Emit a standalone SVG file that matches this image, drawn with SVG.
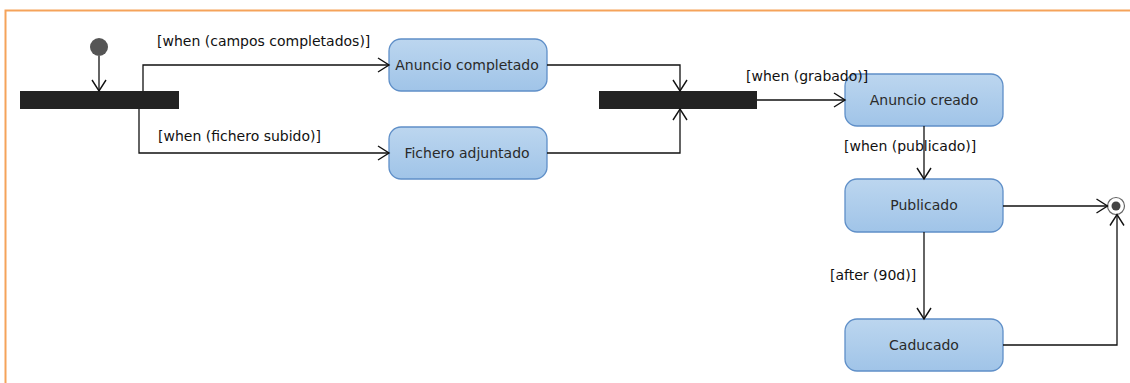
<svg xmlns="http://www.w3.org/2000/svg" width="1130" height="383" viewBox="0 0 1130 383">
<defs>
<linearGradient id="g" x1="0" y1="0" x2="0" y2="1">
<stop offset="0" stop-color="#bcd6ef"/>
<stop offset="1" stop-color="#a0c4e8"/>
</linearGradient>
<marker id="a" markerWidth="14" markerHeight="16" refX="12" refY="8" orient="auto" markerUnits="userSpaceOnUse">
<path d="M1,1 L12,8 L1,15" fill="none" stroke="#111" stroke-width="1.4"/>
</marker>
<style>
.st rect{fill:url(#g);stroke:#5f8fc8;stroke-width:1.3}
.st text{font-family:"DejaVu Sans",sans-serif;font-size:14px;fill:#2a2a2a;text-anchor:middle}
.bar{fill:#222}
.c path{fill:none;stroke:#111;stroke-width:1.3}
.lbl{font-family:"DejaVu Sans",sans-serif;font-size:14px;fill:#111}
</style>
</defs>
<rect width="1130" height="383" fill="#fff"/>
<path d="M5.5,383 V10.5 H1130" fill="none" stroke="#f5a35a" stroke-width="2"/>
<g id="initial"><circle cx="99" cy="47" r="9" fill="#555"/></g>
<g id="fork1"><rect class="bar" x="20" y="91" width="159" height="18"/></g>
<g id="join1"><rect class="bar" x="599" y="91" width="158" height="18"/></g>
<g id="anuncio-completado" class="st"><rect x="389" y="39" width="158" height="52" rx="12"/><text x="467" y="70">Anuncio completado</text></g>
<g id="fichero-adjuntado" class="st"><rect x="389" y="127" width="158" height="52" rx="12"/><text x="467" y="158">Fichero adjuntado</text></g>
<g id="anuncio-creado" class="st"><rect x="845" y="74" width="158" height="52" rx="12"/><text x="924" y="105">Anuncio creado</text></g>
<g id="publicado" class="st"><rect x="845" y="179" width="158" height="53" rx="12"/><text x="924" y="210">Publicado</text></g>
<g id="caducado" class="st"><rect x="845" y="319" width="158" height="52" rx="12"/><text x="924" y="350">Caducado</text></g>
<g id="final"><circle cx="1116" cy="206" r="8.5" fill="#fff" stroke="#666" stroke-width="1.2"/><circle cx="1116" cy="206" r="4.5" fill="#444"/></g>
<g class="c" id="connectors">
<path d="M99,56 V91" marker-end="url(#a)"/>
<path d="M143,91 V65 H389" marker-end="url(#a)"/>
<path d="M139,109 V153 H389" marker-end="url(#a)"/>
<path d="M547,65 H680 V91" marker-end="url(#a)"/>
<path d="M547,153 H680 V109" marker-end="url(#a)"/>
<path d="M757,100 H845" marker-end="url(#a)"/>
<path d="M924,126 V179" marker-end="url(#a)"/>
<path d="M1003,206 H1107.5" marker-end="url(#a)"/>
<path d="M924,232 V319" marker-end="url(#a)"/>
<path d="M1003,345 H1117 V214.5" marker-end="url(#a)"/>
</g>
<g id="labels">
<text class="lbl" x="157" y="46">[when (campos completados)]</text>
<text class="lbl" x="158" y="141">[when (fichero subido)]</text>
<text class="lbl" x="746" y="81">[when (grabado)]</text>
<text class="lbl" x="844" y="151">[when (publicado)]</text>
<text class="lbl" x="830" y="280">[after (90d)]</text>
</g>
</svg>
